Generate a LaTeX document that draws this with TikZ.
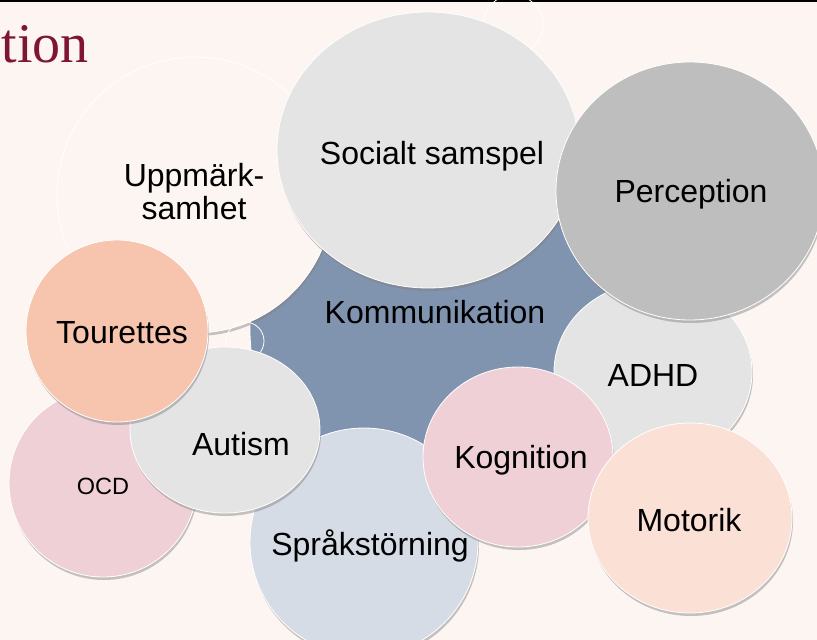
\documentclass[tikz,border=0pt]{standalone}
\usepackage{fontspec}
\setmainfont{Liberation Sans}
\newfontfamily\titlefont{Liberation Serif}
\usetikzlibrary{shapes.geometric,shadows}

\definecolor{slidebg}{RGB}{253,245,241}
\definecolor{titlered}{RGB}{126,22,50}
\definecolor{commblue}{RGB}{128,148,175}
\definecolor{lightgrey}{RGB}{228,228,228}
\definecolor{midgrey}{RGB}{190,190,190}
\definecolor{softpink}{RGB}{239,208,214}
\definecolor{salmon}{RGB}{247,196,174}
\definecolor{peach}{RGB}{251,224,214}
\definecolor{paleblue}{RGB}{213,220,230}

\tikzset{
    bubble/.style={ellipse, draw=white, line width=0.8pt, inner sep=0pt, outer sep=0pt,
        drop shadow={shadow xshift=1pt, shadow yshift=-3pt, opacity=0.45}},
    ghost/.style={circle, draw=white, line width=0.8pt, inner sep=0pt},
    bubble text/.style={font=\fontsize{32}{33}\selectfont, anchor=base, inner sep=0pt},
}

\begin{document}
\begin{tikzpicture}[x=1pt, y=-1pt]
    \useasboundingbox (0,0) rectangle (817,640);
    \fill[slidebg] (0,0) rectangle (817,640);
    \draw[black, line width=3pt] (0,0) -- (817,0);

    % Title remnant
    \node[titlered, anchor=base east, inner sep=0pt, font=\titlefont\fontsize{56}{60}\selectfont] (title) at (89,62) {tion};

    % Faint outline circles
    \node[ghost, minimum size=60pt] (ghost top) at (513,25) {};

    % Central circle
    \node[bubble, fill=commblue, minimum size=364pt] (komm) at (432,330) {};

    % Upper circles
    \node[bubble, fill=slidebg, minimum size=276pt] (uppm) at (195,195) {};
    \node[ghost, minimum size=38pt] (ghost left) at (245,341) {};
    \node[bubble, fill=lightgrey, minimum width=302pt, minimum height=276pt] (social) at (428,150) {};
    \node[bubble, fill=lightgrey, minimum width=198pt, minimum height=180pt] (adhd) at (653,372) {};
    \node[bubble, fill=midgrey, minimum width=268pt, minimum height=258pt] (perc) at (690,191) {};

    % Lower circles
    \node[bubble, fill=paleblue, minimum size=228pt] (sprak) at (364,542) {};
    \node[bubble, fill=softpink, minimum size=188pt] (ocd) at (103,483) {};
    \node[bubble, fill=lightgrey, minimum width=190pt, minimum height=166pt] (autism) at (225,430) {};
    \node[bubble, fill=salmon, minimum size=182pt] (tour) at (117,331) {};
    \node[bubble, fill=softpink, minimum width=190pt, minimum height=180pt] (kogn) at (518,457) {};
    \node[bubble, fill=peach, minimum width=204pt, minimum height=190pt] (motor) at (690,518) {};

    % Labels
    \node[bubble text] (komm text) at (435,323) {Kommunikation};
    \node[font=\fontsize{32}{33}\selectfont, align=center, inner sep=0pt] (uppm text) at (194,192) {Uppmärk-\\samhet};
    \node[bubble text] (social text) at (432,164) {Socialt samspel};
    \node[bubble text] (perc text) at (691,202) {Perception};
    \node[bubble text] (adhd text) at (653,386) {ADHD};
    \node[bubble text] (sprak text) at (370,555) {Språkstörning};
    \node[bubble text, font=\fontsize{23.5}{25}\selectfont] (ocd text) at (103,494) {OCD};
    \node[bubble text] (autism text) at (241,455) {Autism};
    \node[bubble text] (tour text) at (122,343) {Tourettes};
    \node[bubble text] (kogn text) at (521,468) {Kognition};
    \node[bubble text] (motor text) at (689,531) {Motorik};
\end{tikzpicture}
\end{document}
